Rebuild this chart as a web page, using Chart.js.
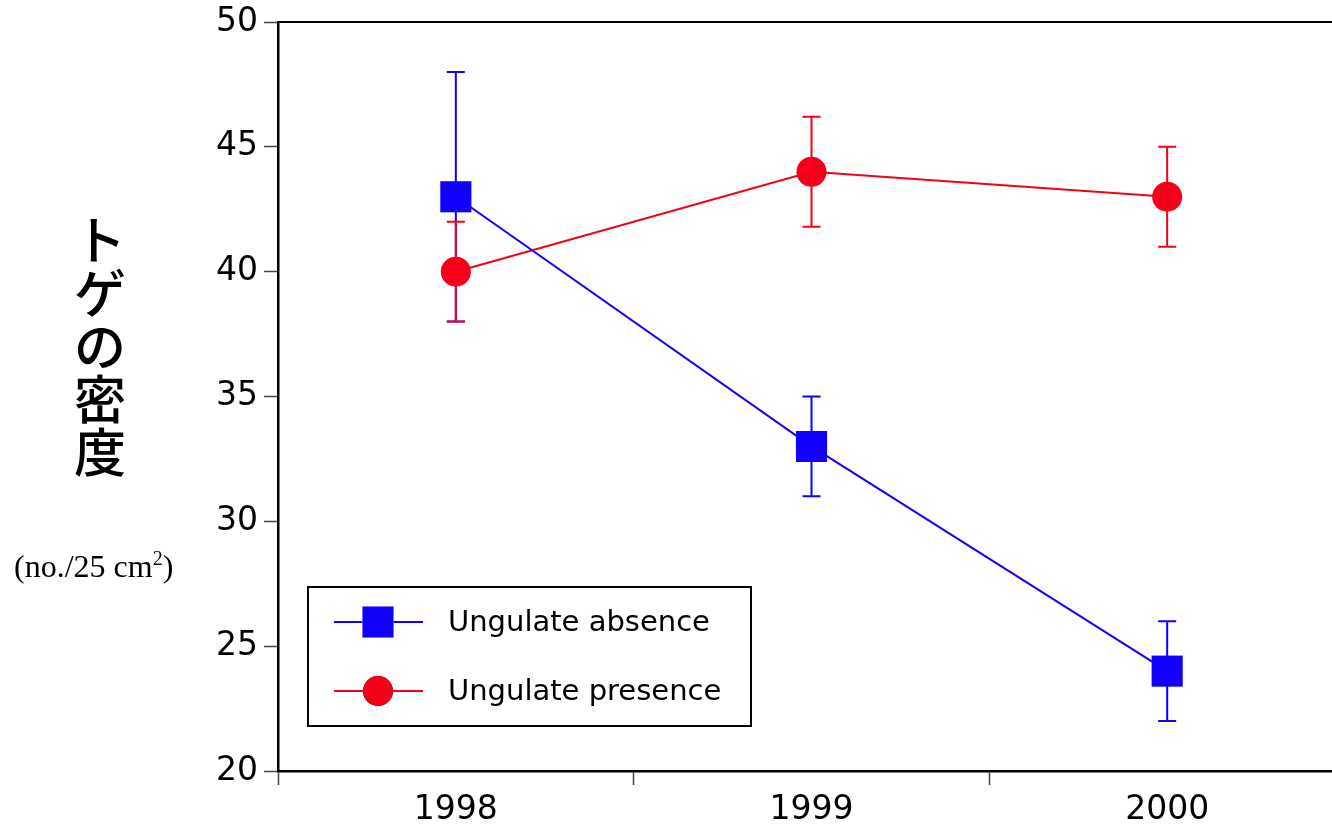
<!DOCTYPE html>
<html>
<head>
<meta charset="utf-8">
<script src="https://cdn.jsdelivr.net/npm/chart.js@4"></script>
<style>
	html, body { margin: 0; padding: 0; background: #fff; overflow: hidden; }
	#myChart { display: block; }
</style>
</head>
<body>
<canvas id="myChart" width="1367" height="828"></canvas>
<script>
// data
const years = ['1998', '1999', '2000']
const absence = [43, 33, 24]
const absenceErr = [5, 2, 2]
const presence = [40, 44, 43]
const presenceErr = [2, 2.2, 2]
const yTicks = [20, 25, 30, 35, 40, 45, 50]

const BLUE = '#1200ff'
const RED = '#f40019'
const FONT = '"DejaVu Sans", sans-serif'
const JP_FONT = '"Noto Sans CJK JP", sans-serif'

// error bars, top frame line, axis title and legend box
const extras = {
	id: 'extras',
	beforeDatasetsDraw(chart) {
		const ctx = chart.ctx
		const y = chart.scales.y
		chart.data.datasets.forEach(function (ds, i) {
			const meta = chart.getDatasetMeta(i)
			ctx.save()
			ctx.strokeStyle = ds.borderColor
			ctx.lineWidth = 2
			meta.data.forEach(function (pt, j) {
				const top = y.getPixelForValue(ds.data[j] + ds.errors[j])
				const bot = y.getPixelForValue(ds.data[j] - ds.errors[j])
				ctx.beginPath()
				ctx.moveTo(pt.x, top)
				ctx.lineTo(pt.x, bot)
				ctx.moveTo(pt.x - 9, top)
				ctx.lineTo(pt.x + 9, top)
				ctx.moveTo(pt.x - 9, bot)
				ctx.lineTo(pt.x + 9, bot)
				ctx.stroke()
			})
			ctx.restore()
		})
	},
	afterDraw(chart) {
		const ctx = chart.ctx
		const area = chart.chartArea
		ctx.save()

		// top frame line
		ctx.strokeStyle = '#000'
		ctx.lineWidth = 2
		ctx.beginPath()
		ctx.moveTo(area.left, area.top)
		ctx.lineTo(area.right, area.top)
		ctx.stroke()

		// vertical axis title
		ctx.fillStyle = '#000'
		ctx.font = '500 52px ' + JP_FONT
		ctx.textAlign = 'center'
		ctx.textBaseline = 'middle'
		const title = 'トゲの密度'
		for (let k = 0; k < title.length; k++) {
			ctx.fillText(title[k], 100, 240 + k * 53)
		}

		// unit line with superscript 2
		ctx.font = '32px "Liberation Serif", serif'
		ctx.textAlign = 'left'
		ctx.textBaseline = 'alphabetic'
		let ux = 14
		const uy = 577
		ctx.fillText('(no./25 cm', ux, uy)
		ux += ctx.measureText('(no./25 cm').width
		ctx.font = '20px "Liberation Serif", serif'
		ctx.fillText('2', ux, uy - 12)
		ux += ctx.measureText('2').width
		ctx.font = '32px "Liberation Serif", serif'
		ctx.fillText(')', ux, uy)

		// legend
		const lx = 308, ly = 587, lw = 443, lh = 139
		ctx.fillStyle = '#fff'
		ctx.fillRect(lx, ly, lw, lh)
		ctx.strokeStyle = '#000'
		ctx.lineWidth = 2
		ctx.strokeRect(lx, ly, lw, lh)
		ctx.font = '29px ' + FONT
		ctx.textAlign = 'left'
		ctx.textBaseline = 'middle'
		chart.data.datasets.forEach(function (ds, i) {
			const rowY = 622 + i * 69
			ctx.strokeStyle = ds.borderColor
			ctx.lineWidth = 2
			ctx.beginPath()
			ctx.moveTo(334, rowY)
			ctx.lineTo(423, rowY)
			ctx.stroke()
			Chart.helpers.drawPoint(ctx, {
				pointStyle: ds.pointStyle,
				radius: ds.pointRadius,
				borderWidth: 0
			}, 378, rowY)
			ctx.fillStyle = ds.backgroundColor
			ctx.fill()
			ctx.fillStyle = '#000'
			ctx.fillText(ds.label, 448, rowY + 1)
		})
		ctx.restore()
	}
}

new Chart(document.getElementById('myChart'), {
	type: 'line',
	data: {
		labels: years,
		datasets: [
			{
				label: 'Ungulate absence',
				data: absence,
				errors: absenceErr,
				borderColor: BLUE,
				backgroundColor: BLUE,
				borderWidth: 2,
				pointStyle: 'rect',
				pointRadius: 22,
				pointBorderWidth: 0,
			},
			{
				label: 'Ungulate presence',
				data: presence,
				errors: presenceErr,
				borderColor: RED,
				backgroundColor: RED,
				borderWidth: 2,
				pointStyle: 'circle',
				pointRadius: 15,
				pointBorderWidth: 0,
			},
		],
	},
	options: {
		responsive: false,
		animation: false,
		events: [],
		layout: { padding: { top: 22, right: 2, left: 0, bottom: 0 } },
		scales: {
			x: {
				offset: true,
				grid: {
					offset: true,
					drawOnChartArea: false,
					drawTicks: true,
					tickLength: 14,
					tickWidth: 1.5,
					tickColor: '#444',
				},
				border: { display: true, color: '#000', width: 2.5 },
				ticks: {
					color: '#000',
					font: { family: FONT, size: 33 },
					padding: 6,
				},
				afterFit: function (scale) {
					scale.height = 57
					scale.paddingLeft = 0
					scale.paddingRight = 0
				},
			},
			y: {
				min: 20,
				max: 50,
				afterBuildTicks: function (scale) {
					scale.ticks = yTicks.map(function (v) {
						return { value: v }
					})
				},
				grid: {
					drawOnChartArea: false,
					drawTicks: true,
					tickLength: 14,
					tickWidth: 1.5,
					tickColor: '#444',
				},
				border: { display: true, color: '#000', width: 2.5 },
				ticks: {
					color: '#000',
					font: { family: FONT, size: 33 },
					padding: 6,
				},
				afterFit: function (scale) {
					scale.width = 278
					scale.paddingTop = 0
					scale.paddingBottom = 0
				},
			},
		},
		plugins: {
			legend: { display: false },
			tooltip: { enabled: false },
		},
	},
	plugins: [extras],
})
</script>
</body>
</html>
